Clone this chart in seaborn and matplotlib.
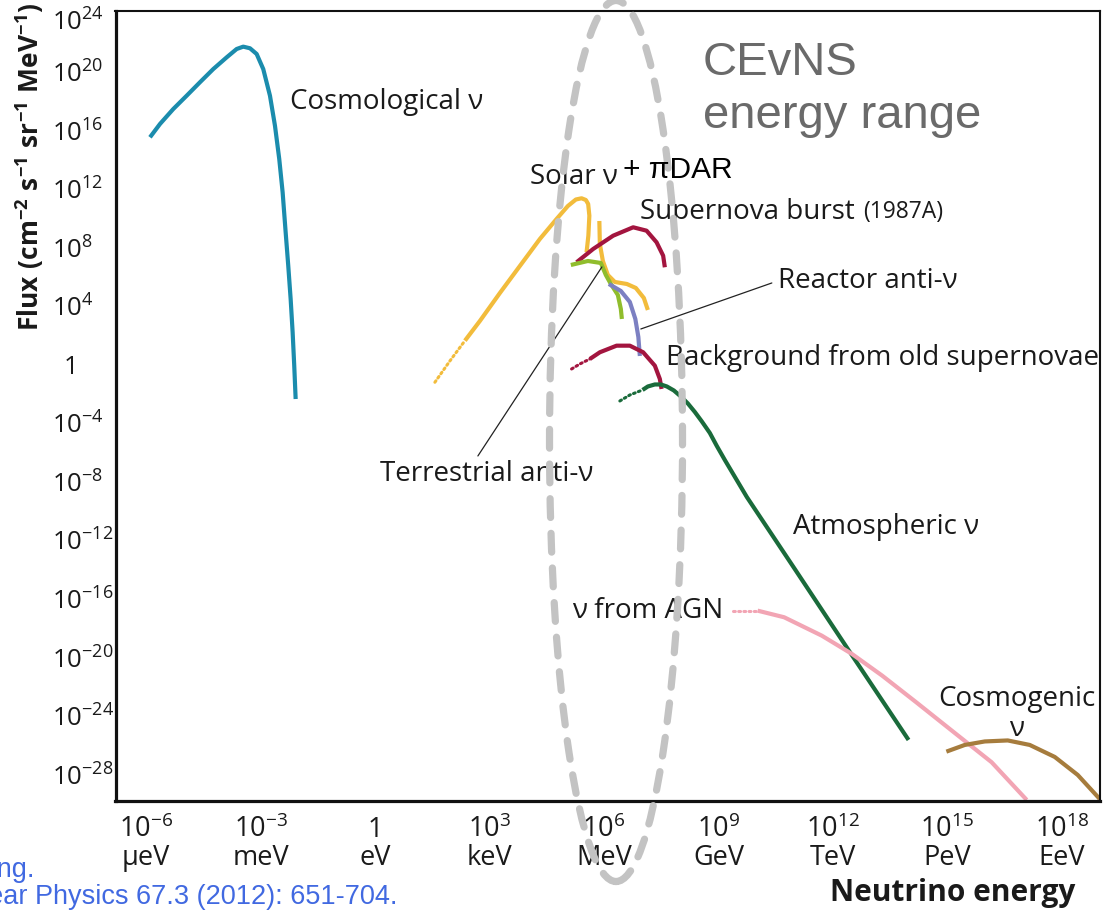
import numpy as np
import matplotlib
matplotlib.use("Agg")
import matplotlib.pyplot as plt
import seaborn as sns
from matplotlib.patches import Ellipse
from matplotlib.ticker import FixedLocator, FixedFormatter, NullLocator
from matplotlib.transforms import ScaledTranslation

# ---------------------------------------------------------------------------
# Neutrino flux spectra: log10(E / eV) and log10(flux / cm^-2 s^-1 sr^-1 MeV^-1)
# ---------------------------------------------------------------------------
cosmo_logE = [-5.896, -5.634, -5.286, -4.935, -4.586, -4.238, -3.887, -3.625, -3.452,
              -3.276, -3.101, -2.928, -2.752, -2.621, -2.509, -2.420, -2.341, -2.273,
              -2.210, -2.158, -2.116, -2.079]
cosmo_logF = [15.34, 16.25, 17.27, 18.18, 19.10, 20.00, 20.80, 21.37, 21.53,
              21.42, 21.03, 20.00, 18.18, 16.13, 13.86, 11.58, 8.85, 6.57,
              4.29, 2.02, -0.26, -2.54]

solar_dot_logE = [1.570, 1.963, 2.357]
solar_dot_logF = [-1.396, 0.059, 1.445]
solar_logE = [2.357, 2.749, 3.274, 3.797, 4.321, 4.759, 5.055, 5.265, 5.414,
              5.526, 5.587, 5.618, 5.592, 5.545]
solar_logF = [1.445, 2.791, 4.704, 6.548, 8.392, 9.758, 10.646, 11.090, 11.172,
              11.056, 10.783, 9.984, 8.617, 7.484]
solar_line_logE = [5.880, 5.893, 5.972, 6.103, 6.286, 6.601, 6.836, 7.046, 7.151]
solar_line_logF = [9.622, 8.051, 6.889, 5.933, 5.455, 5.318, 5.045, 4.362, 3.542]

terr_logE = [5.133, 5.579, 5.919, 6.050, 6.181, 6.365, 6.443, 6.470]
terr_logF = [6.616, 6.889, 6.753, 5.933, 5.318, 4.567, 3.611, 2.928]

reactor_logE = [6.129, 6.443, 6.679, 6.823, 6.902, 6.941]
reactor_logF = [5.318, 4.840, 4.089, 2.928, 1.698, 0.400]

sn_logE = [5.283, 5.718, 6.242, 6.766, 7.117, 7.379, 7.552, 7.596]
sn_logF = [6.801, 7.709, 8.617, 9.191, 8.959, 8.167, 7.251, 6.459]

oldsn_dot_logE = [5.152, 5.369, 5.631]
oldsn_dot_logF = [-0.488, -0.146, 0.195]
oldsn_logE = [5.631, 5.893, 6.331, 6.679, 7.028, 7.334, 7.465, 7.510]
oldsn_logF = [0.195, 0.653, 1.104, 1.104, 0.653, -0.262, -1.171, -1.854]

atm_dot_logE = [6.417, 6.679, 7.012]
atm_dot_logF = [-2.674, -2.264, -1.922]
atm_logE = [7.012, 7.151, 7.334, 7.491, 7.649, 7.832, 8.015, 8.199, 8.382, 8.566,
            8.775, 8.958, 9.168, 9.744, 11.018, 12.495, 13.983]
atm_logF = [-1.922, -1.683, -1.546, -1.546, -1.683, -1.956, -2.366, -2.844, -3.425,
            -4.074, -4.859, -5.747, -6.704, -9.231, -14.217, -20.023, -25.829]

agn_dot_logE = [9.385, 10.027]
agn_dot_logF = [-16.997, -16.997]
agn_logE = [10.027, 10.722, 11.709, 12.500, 13.292, 14.183, 15.170, 16.160, 17.080]
agn_logF = [-16.997, -17.448, -18.705, -19.955, -21.437, -23.254, -25.303, -27.352, -29.928]

cosmogenic_logE = [14.974, 15.456, 15.980, 16.582, 17.159, 17.814, 18.416, 18.992]
cosmogenic_logF = [-26.628, -26.171, -25.932, -25.863, -26.171, -26.990, -28.220, -29.859]

# Axis ticks
x_tick_exp = [-6, -3, 0, 3, 6, 9, 12, 15, 18]
x_tick_unit = ["μeV", "meV", "eV", "keV", "MeV", "GeV", "TeV", "PeV", "EeV"]
y_tick_exp = [-28, -24, -20, -16, -12, -8, -4, 0, 4, 8, 12, 16, 20, 24]

# Colours
C_COSMO = "#1b8cad"
C_SOLAR = "#f2bc3c"
C_SN = "#a3153f"
C_TERR = "#90bd2c"
C_REACT = "#7c80c2"
C_ATM = "#1a6b3b"
C_AGN = "#f2a5b4"
C_GZK = "#a67c3d"

# ---------------------------------------------------------------------------
sns.set_theme(style="white")
plt.rcParams["font.family"] = ["Open Sans", "DejaVu Sans"]
plt.rcParams["mathtext.fontset"] = "custom"
plt.rcParams["mathtext.rm"] = "Open Sans"
plt.rcParams["mathtext.it"] = "Open Sans:italic"
plt.rcParams["mathtext.bf"] = "Open Sans:bold"

W, H = 1112, 912
fig = plt.figure(figsize=(W / 100, H / 100), dpi=100)
fig.patch.set_facecolor("white")
ax = fig.add_axes([115.5 / W, 1 - 802 / H, (1100 - 115.5) / W, (802 - 11.5) / H])
ax.set_facecolor("white")
ax.set_xscale("log")
ax.set_yscale("log")


def curve(logE, logF, color, dotted=False, lw=3.0):
    E = 10.0 ** np.asarray(logE)
    F = 10.0 ** np.asarray(logF)
    if dotted:
        sns.lineplot(x=E, y=F, sort=False, estimator=None, ax=ax, color=color,
                     lw=2.2, linestyle=(0, (0.6, 1.1)), dash_capstyle="round")
    else:
        sns.lineplot(x=E, y=F, sort=False, estimator=None, ax=ax, color=color,
                     lw=lw, solid_capstyle="butt", solid_joinstyle="round")


curve(cosmo_logE, cosmo_logF, C_COSMO)
curve(solar_dot_logE, solar_dot_logF, C_SOLAR, dotted=True)
curve(solar_logE, solar_logF, C_SOLAR)
curve(solar_line_logE, solar_line_logF, C_SOLAR)
curve(sn_logE, sn_logF, C_SN)
curve(terr_logE, terr_logF, C_TERR)
curve(reactor_logE, reactor_logF, C_REACT)
curve(oldsn_dot_logE, oldsn_dot_logF, C_SN, dotted=True)
curve(oldsn_logE, oldsn_logF, C_SN)
curve(atm_dot_logE, atm_dot_logF, C_ATM, dotted=True)
curve(atm_logE, atm_logF, C_ATM)
curve(agn_dot_logE, agn_dot_logF, C_AGN, dotted=True)
curve(agn_logE, agn_logF, C_AGN)
curve(cosmogenic_logE, cosmogenic_logF, C_GZK)

ax.set_xlim(10 ** -6.8, 10 ** 19)
ax.set_ylim(1e-30, 1e24)
ax.set_xlabel("")
ax.set_ylabel("")

# ---- ticks ---------------------------------------------------------------
x_major = list(range(-6, 19))
ax.xaxis.set_major_locator(FixedLocator([10.0 ** k for k in x_major]))
x_labels = []
for k in x_major:
    if k in x_tick_exp:
        unit = x_tick_unit[x_tick_exp.index(k)]
        if k == 0:
            x_labels.append("1\n" + unit)
        else:
            x_labels.append(r"$\mathregular{10^{%d}}$" % k + "\n" + unit)
    else:
        x_labels.append("")
ax.xaxis.set_major_formatter(FixedFormatter(x_labels))
ax.xaxis.set_minor_locator(NullLocator())

y_major = list(range(-28, 25, 2))
ax.yaxis.set_major_locator(FixedLocator([10.0 ** k for k in y_major]))
y_labels = []
for k in y_major:
    if k in y_tick_exp:
        if k == 0:
            y_labels.append(r"$\mathregular{\enspace 1}$")
        else:
            y_labels.append(r"$\mathregular{10^{%d}}$" % k)
    else:
        y_labels.append("")
ax.yaxis.set_major_formatter(FixedFormatter(y_labels))
ax.yaxis.set_minor_locator(NullLocator())

ax.tick_params(axis="both", which="major", direction="in", length=5.2, width=1.3,
               color="black", labelcolor="#1a1a1a")
ax.tick_params(axis="x", pad=10, labelsize=19.5)
ax.tick_params(axis="y", pad=45.5, labelsize=18.5)
for k, lab in zip(y_major, ax.get_yticklabels()):
    lab.set_horizontalalignment("left")
    drop = 8 if k == 24 else 2
    lab.set_transform(lab.get_transform()
                      + ScaledTranslation(0, -drop / 100, fig.dpi_scale_trans))
for lab in ax.get_xticklabels():
    lab.set_multialignment("center")
    lab.set_linespacing(1.0)

for side in ["left", "bottom"]:
    ax.spines[side].set_linewidth(2.3)
for side in ["top", "right"]:
    ax.spines[side].set_linewidth(1.5)
for sp in ax.spines.values():
    sp.set_color("#111111")
    sp.set_visible(True)

# ---- curve labels ----------------------------------------------------------
lab_kw = dict(fontsize=20, color="#1a1a1a", va="center", ha="left")


def label(logE, logF, text, **kw):
    opts = dict(lab_kw)
    opts.update(kw)
    ax.text(10.0 ** logE, 10.0 ** logF, text, **opts)


label(-2.228, 17.82, "Cosmological ν")
label(4.059, 12.70, "Solar ν")
label(6.941, 10.305, "Supernova burst")
label(12.783, 10.27, "(1987A)", fontsize=16.5)
label(10.557, 5.592, "Reactor anti-ν")
label(7.622, 0.332, "Background from old supernovae")
label(0.130, -7.59, "Terrestrial anti-ν")
label(10.950, -11.21, "Atmospheric ν")
label(5.160, -16.95, "ν from AGN")
label(16.818, -23.99, "Cosmogenic\nν", ha="center", linespacing=1.1)

# leader lines
ax.annotate("", xy=(10 ** 5.946, 10 ** 6.48), xytext=(10 ** 2.697, 10 ** -6.43),
            arrowprops=dict(arrowstyle="-", color="#222222", lw=0.9,
                            shrinkA=0, shrinkB=0))
ax.annotate("", xy=(10 ** 6.967, 10 ** 2.244), xytext=(10 ** 10.400, 10 ** 5.387),
            arrowprops=dict(arrowstyle="-", color="#222222", lw=0.9,
                            shrinkA=0, shrinkB=0))

# ---- slide annotations ------------------------------------------------------
sans = ["Liberation Sans", "DejaVu Sans"]
fig.text(703 / W, 1 - 75 / H, "CEvNS", family=sans, fontsize=34, color="#6a6a6a",
         ha="left", va="baseline")
fig.text(703 / W, 1 - 128 / H, "energy range", family=sans, fontsize=34,
         color="#6a6a6a", ha="left", va="baseline")
fig.text(623 / W, 1 - 178 / H, "+ πDAR", family=sans, fontsize=21.5, color="black",
         ha="left", va="baseline")

# CEvNS energy window
ell = Ellipse((0.5084, 0.4554), 0.1351, 1.1145, transform=ax.transAxes,
              fill=False, edgecolor="#c3c3c3", lw=5.2, linestyle=(0, (2.6, 2.2)),
              capstyle="round", clip_on=False, zorder=10)
ax.add_patch(ell)

# ---- axis titles -----------------------------------------------------------
fig.text(30 / W, 1 - 167 / H,
         r"$\mathbf{Flux\ (cm^{-2}\ s^{-1}\ sr^{-1}\ MeV^{-1})}$",
         rotation=90, ha="center", va="center", fontsize=19, color="#1a1a1a")
fig.text(1075 / W, 1 - 893 / H, "Neutrino energy", ha="right", va="center",
         fontsize=21.5, fontweight="bold", color="#1a1a1a")

# ---- reference --------------------------------------------------------------
cite_kw = dict(family=sans, fontsize=19.5, color="#4169e1", ha="right",
               va="center")
fig.text(35 / W, 1 - 870 / H, "Katz, U. F., and Ch. Spiering.", **cite_kw)
fig.text(398 / W, 1 - 897 / H,
         "Progress in Particle and Nuclear Physics 67.3 (2012): 651-704.", **cite_kw)

fig.savefig("out.png", dpi=100, facecolor="white")
